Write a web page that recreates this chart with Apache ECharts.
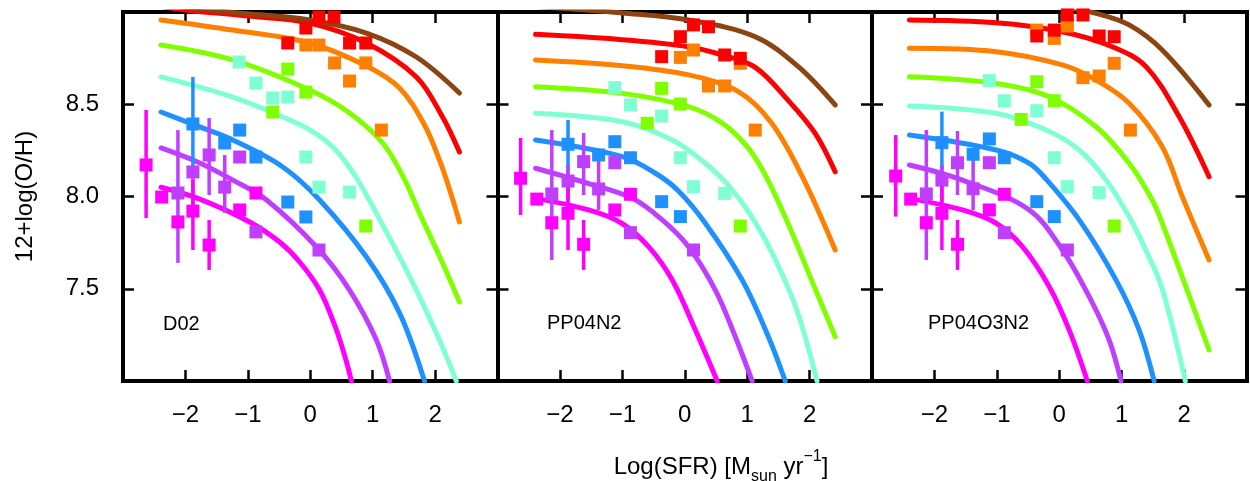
<!DOCTYPE html>
<html><head><meta charset="utf-8">
<script src="https://cdn.jsdelivr.net/npm/echarts@6/dist/echarts.min.js"></script>
<style>html,body{margin:0;padding:0;background:#fff}#chart{width:1250px;height:481px}</style>
</head><body><div id="chart"></div>
<script>
// ---------------- DATA ----------------
const panelNames = ['D02', 'PP04N2', 'PP04O3N2'];
const xRange = [-3, 3];
const yRange = [7, 9];
const xTickStep = 1;
const yTickStep = 0.5;
const xTitle = ['Log(SFR) [M', 'sun', ' yr', '−1', ']'];
const yTitle = '12+log(O/H)';
// mass bins: 0 magenta, 1 purple, 2 blue, 3 aquamarine, 4 green, 5 orange, 6 red, 7 brown

// model curves, panel D02
const curvesD02 = [
  [[-2.39,8.05],[-1.77,7.986],[-0.97,7.862],[-0.49,7.753],[-0.17,7.645],[0.15,7.493],[0.39,7.304],[0.55,7.14],[0.66,7.0]],
  [[-2.39,8.263],[-1.77,8.182],[-1.24,8.089],[-0.70,7.981],[0.10,7.726],[0.63,7.493],[1.06,7.222],[1.27,7.0]],
  [[-2.39,8.458],[-1.77,8.377],[-1.24,8.306],[-0.44,8.16],[0.15,7.981],[0.90,7.672],[1.43,7.369],[1.83,7.0]],
  [[-2.39,8.648],[-1.24,8.539],[-0.44,8.431],[0.0,8.36],[0.36,8.268],[0.71,8.117],[1.16,7.846],[1.70,7.493],[2.07,7.222],[2.34,7.0]],
  [[-2.39,8.821],[-1.24,8.74],[-0.01,8.577],[0.63,8.453],[1.16,8.29],[1.5,8.1],[1.75,7.91],[2.12,7.64],[2.39,7.428]],
  [[-2.39,8.957],[-1.24,8.902],[-0.01,8.832],[0.90,8.707],[1.43,8.588],[1.83,8.388],[2.07,8.198],[2.26,8.008],[2.39,7.862]],
  [[-2.39,9.03],[-1.98,9.01],[-1.0,8.978],[-0.01,8.94],[0.90,8.832],[1.70,8.648],[2.12,8.431],[2.39,8.241]],
  [[-2.39,9.04],[-1.24,8.998],[-0.01,8.957],[0.90,8.886],[1.70,8.756],[2.39,8.561]]
];
// model curves, panel PP04N2
const curvesN2 = [
  [[-2.39,7.99],[-1.54,7.927],[-1.01,7.855],[-0.58,7.728],[-0.2,7.547],[0.17,7.276],[0.52,7.0]],
  [[-2.39,8.153],[-1.54,8.07],[-0.84,7.99],[-0.36,7.873],[0.06,7.728],[0.49,7.493],[0.81,7.24],[1.08,7.0]],
  [[-2.39,8.306],[-1.0,8.216],[-0.47,8.126],[-0.1,8.03],[0.33,7.855],[0.92,7.547],[1.34,7.24],[1.61,7.0]],
  [[-2.39,8.451],[-1.0,8.405],[-0.2,8.306],[0.33,8.18],[0.75,8.04],[1.13,7.86],[1.45,7.66],[1.8,7.38],[2.12,7.0]],
  [[-2.39,8.595],[-1.0,8.559],[0.06,8.487],[0.6,8.398],[1.0,8.27],[1.3,8.11],[1.66,7.85],[2.04,7.54],[2.41,7.24]],
  [[-2.39,8.74],[-1.0,8.709],[0.06,8.659],[0.86,8.568],[1.39,8.398],[1.88,8.11],[2.41,7.71]],
  [[-2.39,8.879],[-1.0,8.85],[0.06,8.812],[0.6,8.767],[1.13,8.70],[1.66,8.52],[2.09,8.342],[2.41,8.134]],
  [[-2.39,9.03],[-1.0,8.995],[0.06,8.957],[1.13,8.866],[1.82,8.704],[2.41,8.496]]
];
// model curves, panel PP04O3N2
const curvesO3N2 = [
  [[-2.4,7.99],[-1.55,7.927],[-1.01,7.855],[-0.59,7.728],[-0.16,7.511],[0.16,7.276],[0.45,7.0]],
  [[-2.4,8.171],[-1.55,8.089],[-0.48,7.927],[0.05,7.71],[0.48,7.457],[0.8,7.222],[0.99,7.0]],
  [[-2.4,8.333],[-1.01,8.252],[-0.48,8.18],[-0.2,8.09],[0.32,7.873],[0.91,7.547],[1.28,7.276],[1.52,7.0]],
  [[-2.4,8.491],[-1.01,8.451],[-0.21,8.36],[0.32,8.252],[0.75,8.09],[1.12,7.89],[1.4,7.70],[1.65,7.50],[2.02,7.0]],
  [[-2.4,8.649],[-1.01,8.613],[-0.16,8.541],[0.59,8.378],[1.12,8.18],[1.49,7.981],[1.65,7.855],[2.03,7.51],[2.4,7.168]],
  [[-2.4,8.803],[-1.01,8.785],[0.05,8.713],[0.59,8.631],[1.12,8.505],[1.65,8.27],[1.97,8.0],[2.4,7.656]],
  [[-2.4,8.957],[-1.01,8.942],[0.05,8.893],[0.85,8.812],[1.39,8.704],[1.92,8.433],[2.4,8.107]],
  [[-2.4,9.1],[-1.0,9.06],[0.0,9.03],[0.59,8.993],[1.12,8.93],[1.65,8.794],[2.4,8.496]]
];

// observed points [logSFR, 12+log(O/H), bin]
const pointsD02 = [
  [-2.63,8.171,0],[-2.38,7.997,0],[-2.12,7.862,0],[-1.88,7.921,0],[-1.62,7.737,0],[-1.13,7.927,0],[-0.87,8.019,0],
  [-2.12,8.019,1],[-1.88,8.133,1],[-1.62,8.225,1],[-1.37,8.051,1],[-1.13,8.214,1],[-0.87,7.808,1],[0.14,7.71,1],
  [-1.88,8.393,2],[-1.37,8.29,2],[-1.13,8.36,2],[-0.87,8.214,2],[-0.36,7.97,2],[-0.07,7.889,2],
  [-1.14,8.729,3],[-0.87,8.615,3],[-0.6,8.534,3],[-0.36,8.539,3],[-0.07,8.214,3],[0.14,8.051,3],[0.63,8.024,3],
  [-0.36,8.691,4],[-0.07,8.566,4],[-0.6,8.458,4],[0.89,7.84,4],
  [-0.07,8.821,5],[0.14,8.821,5],[0.39,8.724,5],[0.89,8.724,5],[0.63,8.626,5],[1.14,8.36,5],
  [-0.36,8.832,6],[-0.07,8.913,6],[0.14,8.973,6],[0.38,8.973,6],[0.63,8.832,6],[0.89,8.832,6]
];
const pointsN2 = [
  [-2.63,8.099,0],[-2.37,7.986,0],[-2.13,7.858,0],[-1.87,7.909,0],[-1.62,7.741,0],[-1.12,7.927,0],[-0.87,8.012,0],
  [-2.13,8.014,1],[-1.87,8.084,1],[-1.62,8.189,1],[-1.38,8.041,1],[-1.12,8.183,1],[-0.87,7.804,1],[0.14,7.71,1],
  [-1.87,8.283,2],[-1.38,8.225,2],[-1.12,8.297,2],[-0.87,8.21,2],[-0.37,7.972,2],[-0.07,7.891,2],
  [-1.12,8.59,3],[-0.87,8.496,3],[-0.37,8.436,3],[-0.07,8.21,3],[0.14,8.053,3],[0.64,8.017,3],
  [-0.37,8.586,4],[-0.07,8.501,4],[-0.6,8.397,4],[0.89,7.84,4],
  [0.14,8.794,5],[-0.07,8.754,5],[0.89,8.722,5],[0.38,8.599,5],[0.64,8.599,5],[1.13,8.36,5],
  [0.14,8.93,6],[0.38,8.92,6],[-0.07,8.866,6],[-0.37,8.758,6],[0.64,8.767,6],[0.89,8.749,6]
];
const pointsO3N2 = [
  [-2.62,8.111,0],[-2.38,7.986,0],[-2.13,7.858,0],[-1.88,7.909,0],[-1.63,7.741,0],[-1.12,7.927,0],[-0.88,8.012,0],
  [-2.13,8.014,1],[-1.88,8.089,1],[-1.63,8.183,1],[-1.38,8.042,1],[-1.12,8.183,1],[-0.88,7.804,1],[0.13,7.71,1],
  [-1.88,8.292,2],[-1.38,8.229,2],[-1.12,8.312,2],[-0.88,8.21,2],[-0.36,7.972,2],[-0.08,7.891,2],
  [-1.12,8.628,3],[-0.88,8.519,3],[-0.36,8.465,3],[-0.08,8.21,3],[0.13,8.053,3],[0.64,8.021,3],
  [-0.36,8.622,4],[-0.08,8.519,4],[-0.61,8.418,4],[0.88,7.84,4],
  [-0.36,8.902,5],[0.13,8.924,5],[-0.08,8.857,5],[0.88,8.722,5],[0.38,8.644,5],[0.64,8.653,5],[1.14,8.36,5],
  [0.13,8.984,6],[0.38,8.984,6],[-0.36,8.87,6],[-0.08,8.902,6],[0.64,8.87,6],[0.88,8.866,6]
];

// error bars [logSFR, low, high, bin]
const errorsD02 = [
  [-2.63,7.883,8.469,0],[-1.88,8.144,8.648,2],[-1.62,8.008,8.425,1],[-1.88,7.95,8.17,1],
  [-1.88,7.71,8.09,0],[-1.37,7.911,8.225,1],[-2.12,7.64,8.36,1],[-1.62,7.602,7.873,0]
];
const errorsN2 = [
  [-2.63,7.9,8.317,0],[-1.87,8.09,8.415,2],[-1.62,8.008,8.344,1],[-1.87,7.95,8.171,1],
  [-1.87,7.71,8.089,0],[-1.38,7.927,8.252,1],[-2.13,7.656,8.36,1],[-1.62,7.602,7.873,0]
];
const errorsO3N2 = [
  [-2.62,7.891,8.333,0],[-1.88,8.117,8.46,2],[-1.63,8.008,8.355,1],[-1.88,7.95,8.171,1],
  [-1.88,7.71,8.089,0],[-1.38,7.927,8.252,1],[-2.13,7.656,8.36,1],[-1.63,7.602,7.873,0]
];

// ---------------- STYLE ----------------
const palette = ['#ff00ff','#bf3eff','#1e90ff','#7fffd4','#7fff00','#ff7f00','#ff0000','#8b4513'];
const FONT = "'Liberation Sans', Arial, Helvetica, sans-serif";
const gridLefts = [123, 497.5, 872];
const gridW = 374.5, gridTop = 12, gridH = 369;
const panelLabelPos = [[163, 324], [547, 323], [928, 323]];

const allCurves = [curvesD02, curvesN2, curvesO3N2];
const allPoints = [pointsD02, pointsN2, pointsO3N2];
const allErrors = [errorsD02, errorsN2, errorsO3N2];

const chart = echarts.init(document.getElementById('chart'), null, {renderer: 'canvas'});

const grids = [], xAxes = [], yAxes = [], series = [], graphics = [];
const axisLineStyle = {show: true, onZero: false, lineStyle: {color: '#000', width: 4, cap: 'square'}};
const tickStyle = {show: true, inside: true, length: 11, lineStyle: {color: '#000', width: 2.5}};
const minusFmt = v => String(v).replace('-', '\u2212');

for (let p = 0; p < 3; p++) {
  grids.push({left: gridLefts[p], top: gridTop, width: gridW, height: gridH, containLabel: false, outerBoundsMode: 'none'});
  ['bottom', 'top'].forEach((pos, k) => {
    xAxes.push({
      gridIndex: p, type: 'value', position: pos, min: xRange[0], max: xRange[1], interval: xTickStep,
      axisLine: axisLineStyle, axisTick: tickStyle, splitLine: {show: false},
      axisLabel: {show: k === 0, showMinLabel: false, showMaxLabel: false, margin: 22, fontSize: 24,
        color: '#000', fontFamily: FONT, formatter: minusFmt}
    });
  });
  ['left', 'right'].forEach((pos, k) => {
    yAxes.push({
      gridIndex: p, type: 'value', position: pos, min: yRange[0], max: yRange[1], interval: yTickStep,
      axisLine: axisLineStyle, axisTick: tickStyle, splitLine: {show: false},
      axisLabel: {show: k === 0 && p === 0, showMinLabel: false, showMaxLabel: false, margin: 24, fontSize: 24,
        color: '#000', fontFamily: FONT, formatter: v => v.toFixed(1)}
    });
  });
  allCurves[p].forEach((c, b) => {
    series.push({
      type: 'line', xAxisIndex: 2 * p, yAxisIndex: 2 * p, data: c, symbol: 'none',
      smooth: 0.35, clip: true, silent: true, z: 2,
      lineStyle: {color: palette[b], width: 5, cap: 'round', join: 'round'}
    });
  });
  series.push({
    type: 'custom', xAxisIndex: 2 * p, yAxisIndex: 2 * p, data: allErrors[p], z: 3, silent: true,
    encode: {x: 0, y: [1, 2]},
    renderItem: (params, api) => {
      const a = api.coord([api.value(0), api.value(1)]);
      const c = api.coord([api.value(0), api.value(2)]);
      return {type: 'line', shape: {x1: a[0], y1: a[1], x2: c[0], y2: c[1]},
        style: {stroke: palette[api.value(3)], lineWidth: 3.5}};
    }
  });
  series.push({
    type: 'scatter', xAxisIndex: 2 * p, yAxisIndex: 2 * p, data: allPoints[p], z: 4, silent: true,
    symbol: 'rect', symbolSize: 13, clip: true,
    itemStyle: {color: params => palette[params.data[2]], opacity: 1}
  });
  graphics.push({
    type: 'text', x: panelLabelPos[p][0], y: panelLabelPos[p][1], silent: true,
    style: {text: panelNames[p], fontSize: 20, fontFamily: FONT, fill: '#000', textAlign: 'left', textVerticalAlign: 'middle'}
  });
}

graphics.push({
  type: 'text', x: 25, y: 196.5, rotation: Math.PI / 2, silent: true,
  style: {text: yTitle, fontSize: 24, fontFamily: FONT, fill: '#000', textAlign: 'center', textVerticalAlign: 'middle'}
});
graphics.push({
  type: 'text', x: 721, y: 467, silent: true,
  style: {
    text: '{n|' + xTitle[0] + '}{sub|' + xTitle[1] + '}{n|' + xTitle[2] + '}{sup|' + xTitle[3] + '}{n|' + xTitle[4] + '}',
    textAlign: 'center', textVerticalAlign: 'middle', fontFamily: FONT, fill: '#000',
    rich: {
      n: {fontSize: 24, fontFamily: FONT, lineHeight: 36, verticalAlign: 'middle', color: '#000'},
      sub: {fontSize: 16, fontFamily: FONT, lineHeight: 20, verticalAlign: 'bottom', color: '#000'},
      sup: {fontSize: 16, fontFamily: FONT, lineHeight: 24, verticalAlign: 'top', color: '#000'}
    }
  }
});

chart.setOption({
  animation: false,
  backgroundColor: '#fff',
  grid: grids, xAxis: xAxes, yAxis: yAxes, series: series, graphic: graphics
});
</script></body></html>
